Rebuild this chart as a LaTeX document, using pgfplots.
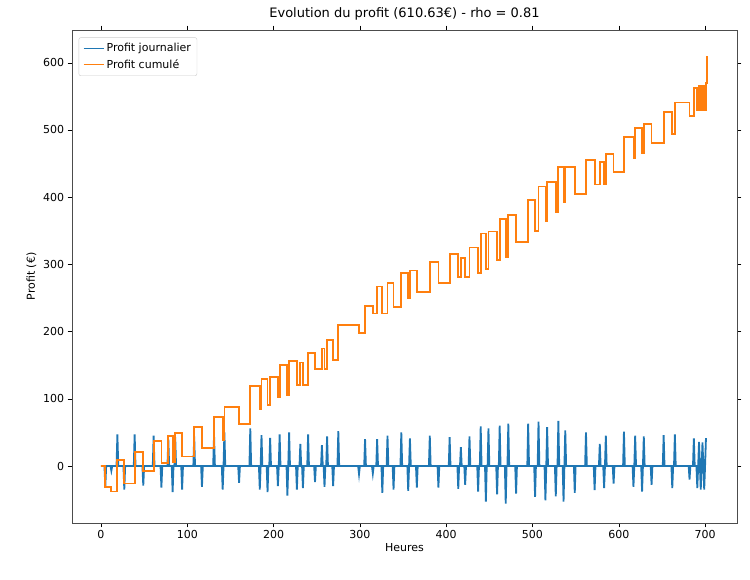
\documentclass[border=0pt]{standalone}
\usepackage{pgfplots}
\pgfplotsset{compat=1.18}
\usepackage{fontspec}
\setmainfont{DejaVu Sans}
\definecolor{mblue}{HTML}{1F77B4}
\definecolor{morange}{HTML}{FF7F0E}
\begin{document}
\begin{tikzpicture}
\path (-72pt,-57pt) rectangle (678pt,523pt);
\begin{axis}[
  scale only axis, width=665pt, height=493pt,
  xmin=-33.6, xmax=737, ymin=-84.8, ymax=648.8,
  xtick={0,100,...,700}, ytick={0,100,...,600},
  tick align=outside, tick style={black,thin},
  /pgf/number format/assume math mode=true,
  ticklabel style={font=\fontsize{11}{13}\selectfont},
  xlabel={Heures}, ylabel={Profit (€)},
  xlabel style={yshift=3pt},
  label style={font=\fontsize{11}{13}\selectfont},
  title={Evolution du profit (610.63€) - rho = 0.81},
  title style={font=\fontsize{13}{15}\selectfont},
  legend style={at={(0.01,0.985)}, anchor=north west, font=\fontsize{11}{13}\selectfont, draw=black!20, rounded corners=2pt, inner sep=4pt, row sep=2pt},
  legend cell align=left,
  legend image code/.code={\draw[#1] (0cm,0cm) -- (0.7cm,0cm);},
  axis line style={black!70},
]
\addplot[mblue, line width=1.8pt] coordinates {
(0,0)(4,0)(5,-31)(6,0)(11,0)(12,-7)(13,0)(18,0)(19,47)(20,0)(26,0)(27,-35)(28,0)
(38,0)(39,47)(40,0)(48,0)(49,-29)(50,0)(60,0)(61,45)(62,0)(69,0)(70,-32)(71,0)
(77,0)(78,40)(79,0)(82,0)(83,-39)(84,0)(85,0)(86,43)(87,0)(93,0)(94,-35)(95,0)
(107,0)(108,44)(109,0)(116,0)(117,-31)(118,0)(130,0)(131,46)(132,0)(140,0)(141,-35)(142,0)(143,50)(144,0)
(159,0)(160,-25)(161,0)(172,0)(173,56)(174,0)(183,0)(184,-35)(185,0)(186,46)(187,0)
(192,0)(193,-39)(194,0)(195,0)(196,42)(197,0)(204,0)(205,-30)(206,0)(207,47)(208,0)
(215,0)(216,-44)(217,0)(218,50)(219,0)(226,0)(227,-35)(228,0)(230,0)(231,33)(232,0)(233,0)(234,-33)(235,0)
(239,0)(240,47)(241,0)(247,0)(248,-24)(249,0)(255,0)(256,31)(257,0)(258,0)(259,-31)(260,0)(261,0)(262,44)(263,0)
(268,0)(269,-30)(270,0)(274,0)(275,52)(276,0)(298,0)(299,-12)(300,0)(305,0)(306,40)(307,0)
(314,0)(315,-11)(316,0)(319,0)(320,40)(321,0)(325,0)(326,-40)(327,0)(331,0)(332,45)(333,0)
(338,0)(339,-35)(340,0)(347,0)(348,50)(349,0)(355,0)(356,-37)(357,0)(358,41)(359,0)
(365,0)(366,-32)(367,0)(380,0)(381,45)(382,0)(390,0)(391,-32)(392,0)(403,0)(404,43)(405,0)
(413,0)(414,-34)(415,0)(416,0)(417,28)(418,0)(421,0)(422,-28)(423,0)(426,0)(427,44)(428,0)
(436,0)(437,-38)(438,0)(439,0)(440,59)(441,0)(445,0)(446,-53)(447,0)(448,0)(449,56)(450,0)
(458,0)(459,-42)(460,0)(461,0)(462,60)(463,0)(468,0)(469,-56)(470,0)(471,0)(472,63)(473,0)
(480,0)(481,-41)(482,0)(494,0)(495,63)(496,0)(502,0)(503,-46)(504,0)(506,0)(507,66)(508,0)
(514,0)(515,-51)(516,0)(517,58)(518,0)(526,0)(527,-45)(528,0)(529,0)(530,67)(531,0)
(535,0)(536,-53)(537,0)(538,53)(539,0)(548,0)(549,-40)(550,0)(561,0)(562,50)(563,0)
(571,0)(572,-36)(573,0)(577,0)(578,33)(579,0)(582,0)(583,-33)(584,0)(585,45)(586,0)
(593,0)(594,-26)(595,0)(605,0)(606,51)(607,0)(616,0)(617,-31)(618,0)(619,45)(620,0)
(626,0)(627,-38)(628,0)(629,44)(630,0)(637,0)(638,-28)(639,0)(651,0)(652,46)(653,0)
(661,0)(662,-33)(663,0)(664,0)(665,47)(666,0)(681,0)(682,-20)(683,0)(686,0)(687,41)(688,0)
(690,0)(691,-33)(692,0)(693,36)(694,0)(695,-35)(696,0)(697,35)(698,0)(699,-35)(700,0)(701,40)(702,40)
};
\addlegendentry{Profit journalier}
\addplot[morange, line width=1.8pt, const plot] coordinates {
(0,0)(5,-31)(12,-38)(19,9)(27,-26)(39,21)(49,-8)(61,37)(70,5)(78,45)(83,6)(86,49)(94,14)
(108,58)(117,27)(131,73)(141,38)(143,88)(160,63)(173,119)(184,84)(186,130)(193,91)(196,133)
(205,103)(207,150)(216,106)(218,156)(227,121)(231,154)(234,121)(240,168)(248,144)(256,175)
(259,144)(262,188)(269,158)(275,210)(299,198)(306,238)(315,227)(320,267)(326,227)(332,272)
(339,237)(348,287)(356,250)(358,291)(366,259)(381,304)(391,272)(404,315)(414,281)(417,309)
(422,281)(427,325)(437,287)(440,346)(446,293)(449,349)(459,307)(462,367)(469,311)(472,374)
(481,333)(495,396)(503,350)(507,416)(515,365)(517,423)(527,378)(530,445)(536,392)(538,445)
(549,405)(562,455)(572,419)(578,452)(583,419)(585,464)(594,438)(606,489)(617,458)(619,503)
(627,465)(629,509)(638,481)(652,527)(662,494)(665,541)(682,521)(687,562)(691,529)(693,565)
(695,530)(697,565)(699,530)(701,570)(702,610)
};
\addlegendentry{Profit cumulé}
\end{axis}
\end{tikzpicture}
\end{document}
